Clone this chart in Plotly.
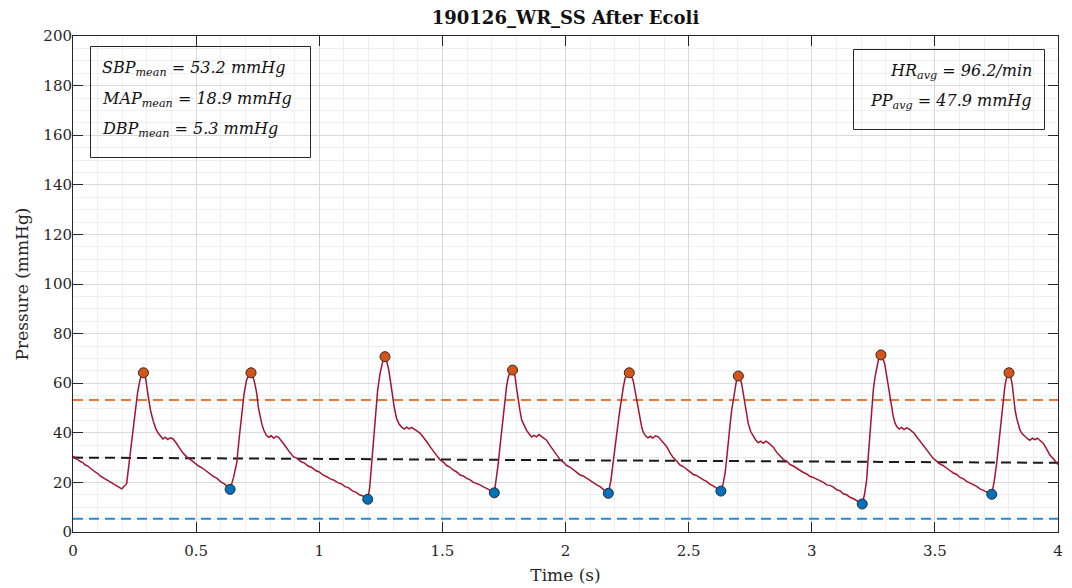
import plotly.graph_objects as go

# ---------------- data ----------------
time_s = [
    0.000, 0.010, 0.020, 0.030, 0.040, 0.050, 0.060, 0.070, 0.080, 0.090, 0.100, 0.110,
    0.120, 0.130, 0.140, 0.150, 0.160, 0.170, 0.180, 0.190, 0.198, 0.208, 0.218, 0.228,
    0.238, 0.252, 0.262, 0.272, 0.280, 0.286,
    0.295, 0.305, 0.315, 0.325, 0.335, 0.345, 0.355, 0.365, 0.375, 0.385, 0.395, 0.405,
    0.415, 0.425, 0.435, 0.445, 0.455, 0.465, 0.480, 0.495, 0.510, 0.525, 0.540, 0.555,
    0.570, 0.585, 0.600, 0.615, 0.630, 0.638,
    0.652, 0.665, 0.675, 0.685, 0.695, 0.705, 0.715, 0.723,
    0.730, 0.738, 0.746, 0.753, 0.760, 0.767, 0.775, 0.785, 0.795, 0.805, 0.815, 0.825,
    0.835, 0.845, 0.855, 0.865, 0.875, 0.885, 0.895, 0.910, 0.925, 0.940, 0.955, 0.970,
    0.985, 1.000, 1.015, 1.030, 1.045, 1.060, 1.075, 1.090, 1.105, 1.120, 1.135, 1.150,
    1.165, 1.180, 1.197,
    1.205, 1.213, 1.220, 1.228, 1.237, 1.247, 1.257, 1.267,
    1.275, 1.283, 1.290, 1.297, 1.305, 1.314, 1.324, 1.335, 1.345, 1.355, 1.365, 1.375,
    1.385, 1.396, 1.410, 1.423, 1.436, 1.450, 1.463, 1.477, 1.490, 1.504, 1.517, 1.530,
    1.544, 1.558, 1.572, 1.585, 1.599, 1.613, 1.626, 1.640, 1.653, 1.667, 1.680, 1.695,
    1.711,
    1.719, 1.727, 1.734, 1.741, 1.748, 1.754, 1.761, 1.768, 1.776, 1.785,
    1.795, 1.802, 1.808, 1.815, 1.822, 1.832, 1.842, 1.852, 1.862, 1.872, 1.882, 1.892,
    1.902, 1.912, 1.923, 1.936, 1.950, 1.964, 1.978, 1.991, 2.005, 2.018, 2.032, 2.045,
    2.059, 2.072, 2.086, 2.100, 2.113, 2.127, 2.140, 2.155, 2.174,
    2.184, 2.194, 2.202, 2.210, 2.219, 2.228, 2.235, 2.242, 2.250, 2.259,
    2.267, 2.275, 2.282, 2.289, 2.296, 2.303, 2.310, 2.316, 2.325, 2.335, 2.345, 2.355,
    2.365, 2.377, 2.390, 2.400, 2.411, 2.424, 2.438, 2.451, 2.465, 2.478, 2.492, 2.505,
    2.519, 2.532, 2.546, 2.560, 2.573, 2.587, 2.600, 2.615, 2.631,
    2.640, 2.648, 2.655, 2.661, 2.668, 2.675, 2.682, 2.688, 2.695, 2.702,
    2.708, 2.715, 2.722, 2.729, 2.736, 2.742, 2.752, 2.763, 2.773, 2.783, 2.793, 2.803,
    2.813, 2.823, 2.833, 2.844, 2.857, 2.871, 2.885, 2.898, 2.912, 2.925, 2.939, 2.952,
    2.966, 2.979, 2.993, 3.006, 3.020, 3.034, 3.047, 3.061, 3.074, 3.088, 3.102, 3.115,
    3.128, 3.142, 3.155, 3.170, 3.185, 3.205,
    3.214, 3.223, 3.230, 3.237, 3.244, 3.250, 3.257, 3.264, 3.272, 3.281,
    3.289, 3.297, 3.304, 3.311, 3.318, 3.325, 3.331, 3.338, 3.345, 3.355, 3.365, 3.375,
    3.386, 3.396, 3.406, 3.416, 3.426, 3.440, 3.453, 3.467, 3.480, 3.494, 3.507, 3.521,
    3.534, 3.548, 3.561, 3.575, 3.589, 3.602, 3.616, 3.629, 3.643, 3.656, 3.670, 3.683,
    3.697, 3.710, 3.731,
    3.741, 3.751, 3.758, 3.764, 3.771, 3.778, 3.784, 3.789, 3.795, 3.801,
    3.807, 3.814, 3.820, 3.826, 3.833, 3.840, 3.846, 3.856, 3.866, 3.876, 3.886, 3.896,
    3.906, 3.916, 3.926, 3.940, 3.953, 3.967, 3.980, 3.990, 4.000,
]

pressure_mmHg = [
    30.6, 29.6, 29.2, 28.4, 28.0, 27.0, 26.6, 25.6, 25.0, 24.2, 23.6, 22.6,
    22.0, 21.4, 20.6, 20.2, 19.4, 18.8, 18.2, 17.6, 17.4, 18.4, 19.6, 28.0,
    37.0, 48.0, 56.0, 61.3, 63.5, 64.2,
    62.0, 55.0, 49.0, 45.0, 42.0, 40.0, 38.5, 37.5, 38.2, 37.3, 38.0, 37.6,
    36.5, 35.0, 33.2, 32.0, 31.0, 30.0, 29.0, 27.8, 26.6, 25.8, 24.6, 23.6,
    22.4, 21.6, 20.2, 19.4, 18.2, 17.2,
    22.0, 28.0, 38.0, 48.0, 56.0, 61.3, 63.5, 64.2,
    63.0, 60.0, 56.0, 50.0, 46.5, 43.5, 41.0, 39.0, 38.2, 38.8, 37.8, 38.6,
    38.2, 37.0, 35.6, 34.3, 32.8, 31.8, 30.4, 29.7, 28.4, 27.8, 26.6, 26.0,
    24.8, 24.2, 23.0, 22.3, 21.4, 20.9, 19.9, 19.4, 18.3, 17.8, 16.6, 16.0,
    14.9, 14.4, 13.2,
    18.0, 27.7, 38.0, 49.0, 57.0, 64.0, 68.5, 70.7,
    68.5, 65.0, 60.0, 55.0, 50.0, 45.8, 43.5, 42.3, 41.5, 42.3, 41.6, 42.2,
    41.4, 40.8, 39.8, 38.2, 36.5, 34.4, 32.5, 30.8, 29.2, 28.2, 26.8, 26.2,
    25.0, 24.2, 23.0, 22.6, 21.6, 21.0, 20.0, 19.6, 19.0, 18.2, 17.6, 16.8,
    15.8,
    21.0, 27.7, 34.5, 41.1, 48.0, 54.6, 59.0, 62.6, 64.6, 65.3,
    62.8, 57.5, 53.0, 49.0, 45.2, 42.8, 41.0, 39.6, 38.3, 39.0, 38.4, 39.3,
    38.6, 38.0, 37.0, 35.0, 33.0, 31.0, 29.2, 28.2, 26.8, 26.2, 25.0, 24.2,
    23.0, 22.6, 21.6, 20.6, 20.0, 19.0, 18.3, 17.2, 15.6,
    20.5, 27.7, 34.5, 41.1, 48.0, 54.6, 58.5, 62.0, 63.6, 64.2,
    63.0, 61.0, 57.0, 53.0, 49.0, 45.2, 42.0, 40.2, 38.8, 38.0, 38.6, 37.9,
    38.8, 38.4, 36.8, 35.8, 34.4, 32.0, 29.9, 28.6, 27.0, 26.4, 25.2, 24.4,
    23.2, 22.8, 21.8, 21.0, 20.4, 19.2, 18.6, 17.6, 16.5,
    19.5, 23.6, 30.0, 37.1, 43.0, 49.2, 54.0, 58.6, 61.5, 62.9,
    62.0, 60.0, 56.0, 52.0, 47.5, 43.8, 40.5, 38.4, 37.0, 36.0, 36.6, 35.8,
    36.6, 36.0, 35.2, 34.2, 32.2, 30.6, 29.2, 28.6, 27.2, 26.6, 25.6, 25.0,
    24.0, 23.4, 22.4, 22.0, 21.4, 20.6, 20.0, 19.0, 18.8, 18.1, 17.0, 16.6,
    15.4, 15.0, 14.0, 13.4, 12.4, 11.3,
    15.0, 21.0, 31.0, 41.1, 50.0, 57.3, 62.5, 66.7, 70.0, 71.4,
    70.0, 67.5, 63.0, 58.5, 54.6, 50.0, 46.5, 44.0, 42.5, 41.5, 42.2, 41.3,
    42.0, 41.5, 40.8, 39.8, 38.4, 36.5, 34.8, 33.0, 31.0, 29.6, 28.6, 27.4,
    26.8, 25.6, 24.8, 23.8, 23.2, 22.0, 21.4, 20.4, 19.8, 19.0, 18.4, 17.4,
    16.9, 16.2, 15.2,
    20.5, 27.7, 34.5, 41.1, 48.0, 54.6, 58.5, 61.3, 63.4, 64.2,
    63.0, 59.5, 54.0, 49.0, 45.5, 42.5, 41.0, 39.5, 38.4, 37.6, 37.0, 37.8,
    37.2, 37.8, 37.0, 35.8, 33.6, 31.0, 29.6, 28.2, 27.2,
]

peak_t = [0.286, 0.723, 1.267, 1.785, 2.259, 2.702, 3.281, 3.801]
peak_p = [64.2, 64.2, 70.7, 65.3, 64.2, 62.9, 71.4, 64.2]

trough_t = [0.638, 1.197, 1.711, 2.174, 2.631, 3.205, 3.731]
trough_p = [17.2, 13.2, 15.8, 15.6, 16.5, 11.3, 15.2]

sbp_mean = 53.2
dbp_mean = 5.3
map_trend_t = [0.0, 4.0]
map_trend_p = [30.0, 27.9]

x_range = [0, 4]
y_range = [0, 200]

title_text = "190126_WR_SS After Ecoli"
stats_left = [
    "<i>SBP<sub>mean</sub> = 53.2 mmHg</i>",
    "<i>MAP<sub>mean</sub> = 18.9 mmHg</i>",
    "<i>DBP<sub>mean</sub> = 5.3 mmHg</i>",
]
stats_right = [
    "<i>HR<sub>avg</sub> = 96.2/min</i>",
    "<i>PP<sub>avg</sub> = 47.9 mmHg</i>",
]

# ---------------- figure ----------------
# The page body adds an 8px margin, so the figure is laid out in page pixels
# minus that offset.
FONT = "DejaVu Serif"
OFF = 8
W, H = 1072 - OFF, 588 - OFF
ML, MR, MT, MB = 73 - OFF, 14, 36 - OFF, 56
PW, PH = W - ML - MR, H - MT - MB


def px_to_paper(xp, yp):
    # xp, yp are page pixel coordinates
    return (xp - OFF - ML) / PW, (H - MB - (yp - OFF)) / PH


fig = go.Figure()

fig.add_trace(go.Scatter(x=[x_range[0], x_range[1]], y=[sbp_mean, sbp_mean], mode="lines",
                         line=dict(color="#EE7538", width=2, dash="10px,6px"),
                         hoverinfo="skip", showlegend=False))
fig.add_trace(go.Scatter(x=[x_range[0], x_range[1]], y=[dbp_mean, dbp_mean], mode="lines",
                         line=dict(color="#2B8CD6", width=2, dash="10px,6px"),
                         hoverinfo="skip", showlegend=False))
fig.add_trace(go.Scatter(x=map_trend_t, y=map_trend_p, mode="lines",
                         line=dict(color="#1a1a1a", width=2, dash="10px,6px"),
                         hoverinfo="skip", showlegend=False))

fig.add_trace(go.Scatter(x=time_s, y=pressure_mmHg, mode="lines",
                         line=dict(color="#A2142F", width=1.5), showlegend=False))

fig.add_trace(go.Scatter(x=peak_t, y=peak_p, mode="markers",
                         marker=dict(color="#D95319", size=10, line=dict(color="#2a2a2a", width=1)),
                         showlegend=False))
fig.add_trace(go.Scatter(x=trough_t, y=trough_p, mode="markers",
                         marker=dict(color="#0072BD", size=10, line=dict(color="#2a2a2a", width=1)),
                         showlegend=False))

axis_common = dict(
    showgrid=True, gridcolor="#d9d9d9", gridwidth=1,
    ticks="inside", ticklen=10, tickcolor="#262626",
    showline=True, linecolor="#262626", linewidth=1, mirror="allticks",
    zeroline=False, automargin=False,
    tickfont=dict(family=FONT, size=15, color="#262626"),
)

fig.update_xaxes(range=x_range, tick0=0, dtick=0.5, ticklabelstandoff=5,
                 minor=dict(dtick=0.1, showgrid=True, gridcolor="#efefef", ticks=""),
                 title=dict(text="Time (s)", font=dict(family=FONT, size=17, color="#262626"), standoff=10),
                 **axis_common)
fig.update_yaxes(range=y_range, tick0=0, dtick=20, ticklabelstandoff=-3,
                 minor=dict(dtick=5, showgrid=True, gridcolor="#efefef", ticks=""),
                 title=dict(text="Pressure (mmHg)", font=dict(family=FONT, size=17, color="#262626"), standoff=10),
                 **axis_common)

# stat boxes
shapes = []
x0, y0 = px_to_paper(90.5, 157.5)
x1, y1 = px_to_paper(310.5, 46.5)
shapes.append(dict(type="rect", xref="paper", yref="paper", x0=x0, y0=y0, x1=x1, y1=y1,
                   line=dict(color="#262626", width=1), fillcolor="rgba(0,0,0,0)", layer="above"))
x0, y0 = px_to_paper(853.5, 129.5)
x1, y1 = px_to_paper(1044.5, 49.5)
shapes.append(dict(type="rect", xref="paper", yref="paper", x0=x0, y0=y0, x1=x1, y1=y1,
                   line=dict(color="#262626", width=1), fillcolor="rgba(0,0,0,0)", layer="above"))

annotations = []
left_line_y = [68, 99, 129]
for txt, yp in zip(stats_left, left_line_y):
    ax, ay = px_to_paper(100, yp)
    annotations.append(dict(text=txt, x=ax, y=ay, xref="paper", yref="paper",
                            xanchor="left", yanchor="middle", showarrow=False,
                            font=dict(family=FONT, size=16, color="#111111")))
right_line_y = [71, 101]
for txt, yp in zip(stats_right, right_line_y):
    ax, ay = px_to_paper(1034, yp)
    annotations.append(dict(text=txt, x=ax, y=ay, xref="paper", yref="paper",
                            xanchor="right", yanchor="middle", showarrow=False,
                            font=dict(family=FONT, size=16, color="#111111")))

fig.update_layout(
    width=W, height=H,
    margin=dict(l=ML, r=MR, t=MT, b=MB),
    paper_bgcolor="white", plot_bgcolor="white",
    title=dict(text="<b>" + title_text + "</b>", x=(ML + PW / 2) / W, xanchor="center",
               y=1 - (18 - OFF) / H, yanchor="middle",
               font=dict(family=FONT, size=18, color="#111111")),
    shapes=shapes, annotations=annotations,
    showlegend=False,
)

fig.write_html("out.html")
